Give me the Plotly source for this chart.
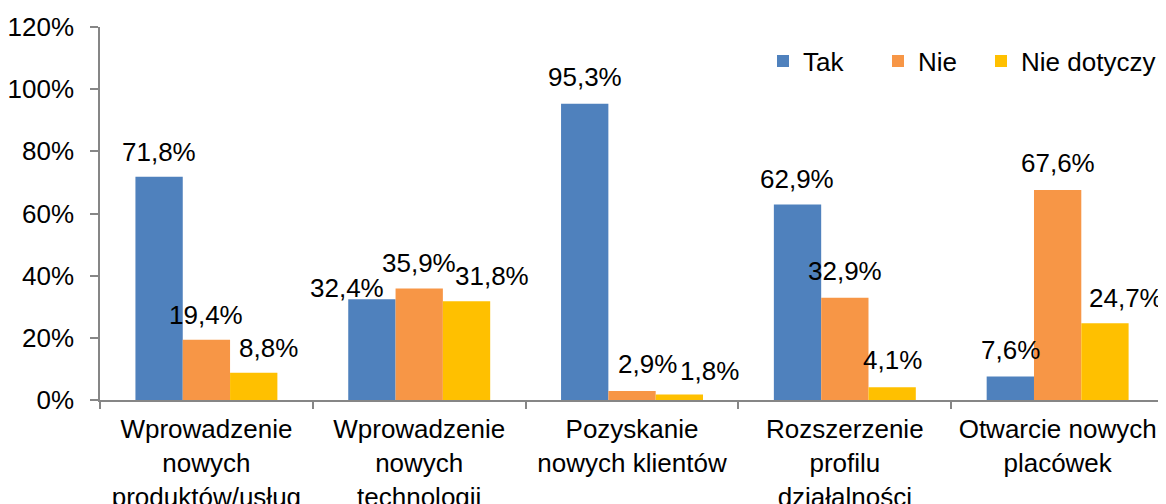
import plotly.graph_objects as go

categories = [
    "Wprowadzenie<br>nowych<br>produktów/usług",
    "Wprowadzenie<br>nowych<br>technologii",
    "Pozyskanie<br>nowych klientów",
    "Rozszerzenie<br>profilu<br>działalności",
    "Otwarcie nowych<br>placówek",
]
series_names = ["Tak", "Nie", "Nie dotyczy"]
tak = [71.8, 32.4, 95.3, 62.9, 7.6]
nie = [19.4, 35.9, 2.9, 32.9, 67.6]
nie_dotyczy = [8.8, 31.8, 1.8, 4.1, 24.7]
y_ticks = [0, 20, 40, 60, 80, 100, 120]

colors = ["#4F81BD", "#F79646", "#FFC000"]
values = [tak, nie, nie_dotyczy]

# the page body has an 8px margin, so the figure is drawn 8px in from the top-left
BODY = 8
W, H = 1166 - BODY, 504 - BODY
ML, MR, MT, MB = 100 - BODY, 1, 27 - BODY, 104
BARGAP = 0.333
FONT = dict(family="Liberation Sans, Arial, sans-serif", size=26, color="#000000")

# label nudges (px) mimicking the reference's manual label placement
label_dx = [[0, 0, 15], [-25, 0, 25], [0, 15, 30], [0, 0, 0], [0, 0, 21]]
label_dy = [[25, 25, 25], [11, 25, 25], [27, 27, 23], [25, 27, 27], [26, 27, 25]]

# legend entry positions (page px of the legend box's left edge)
legend_px = [763, 878, 981]
legend_keys = ["legend", "legend2", "legend3"]

plot_w = W - ML - MR
plot_h = H - MT - MB

fig = go.Figure()
for name, vals, col, lk in zip(series_names, values, colors, legend_keys):
    fig.add_trace(go.Bar(name=name, x=categories, y=vals, legend=lk,
                         marker=dict(color=col, line=dict(width=0))))

bar_w = plot_w / len(categories) * (1 - BARGAP) / 3
annotations = []
for si, vals in enumerate(values):
    for ci, v in enumerate(vals):
        annotations.append(dict(
            x=categories[ci], y=v, xref="x", yref="y",
            text=f"{v:.1f}".replace(".", ",") + "%",
            showarrow=False, xanchor="center", yanchor="middle",
            xshift=(si - 1) * bar_w + label_dx[ci][si],
            yshift=label_dy[ci][si],
            font=FONT,
        ))

legend_y = 1 - 34 / plot_h
legends = {}
for lk, px in zip(legend_keys, legend_px):
    legends[lk] = dict(orientation="h", x=(px - BODY - ML) / plot_w, y=legend_y,
                       xanchor="left", yanchor="middle", font=FONT,
                       bgcolor="rgba(0,0,0,0)", itemwidth=30)

fig.update_layout(
    width=W, height=H,
    margin=dict(l=ML, r=MR, t=MT, b=MB, pad=0, autoexpand=False),
    paper_bgcolor="white", plot_bgcolor="white",
    barmode="group", bargap=BARGAP, bargroupgap=0,
    font=FONT,
    annotations=annotations,
    showlegend=True,
    **legends,
    xaxis=dict(showline=True, linecolor="#868686", linewidth=1.5, ticks="outside",
               tickson="boundaries", ticklen=7, tickcolor="#868686", tickwidth=1.5,
               showgrid=False, tickfont=FONT, tickangle=0, automargin=False,
               ticklabelstandoff=5),
    yaxis=dict(range=[0, 120], tickvals=y_ticks, ticktext=[f"{t}%" for t in y_ticks],
               showline=True, linecolor="#868686", linewidth=1.5, ticks="outside",
               ticklen=8, tickcolor="#868686", tickwidth=1.5, showgrid=False,
               zeroline=False, tickfont=FONT, ticklabelstandoff=11, automargin=False),
)

fig.write_html("out.html")
